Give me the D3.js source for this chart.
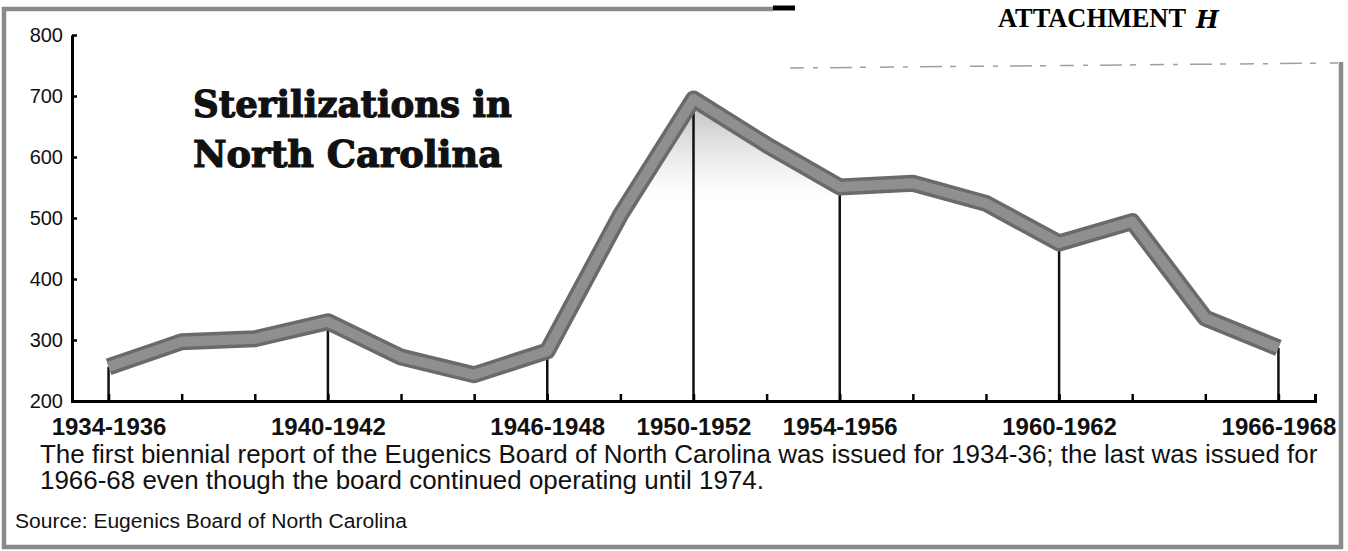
<!DOCTYPE html>
<html>
<head>
<meta charset="utf-8">
<script src="https://cdn.jsdelivr.net/npm/d3@7"></script>
<style>
  body { margin: 0; background: #fff; }
  svg { display: block; }
</style>
</head>
<body>
<div id="chart"></div>
<script>
// biennial report periods and sterilizations
const periods = [
  "1934-1936", "1936-1938", "1938-1940", "1940-1942", "1942-1944", "1944-1946",
  "1946-1948", "1948-1950", "1950-1952", "1952-1954", "1954-1956", "1956-1958",
  "1958-1960", "1960-1962", "1962-1964", "1964-1966", "1966-1968"
];
const sterilizations = [256, 297, 302, 330, 272, 243, 282, 505, 695, 620, 551, 557, 524, 459, 494, 336, 287];
const labeledPeriods = ["1934-1936", "1940-1942", "1946-1948", "1950-1952", "1954-1956", "1960-1962", "1966-1968"];
const yTicks = [200, 300, 400, 500, 600, 700, 800];
const titleLines = ["Sterilizations in", "North Carolina"];
const noteLines = [
  "The first biennial report of the Eugenics Board of North Carolina was issued for 1934-36; the last was issued for",
  "1966-68 even though the board continued operating until 1974."
];
const sourceText = "Source: Eugenics Board of North Carolina";
const attachmentText = "ATTACHMENT";
const attachmentMark = "H";

const W = 1348, H = 551;
const sans = "'Liberation Sans', Arial, Helvetica, sans-serif";

const svg = d3.select("#chart").append("svg")
  .attr("width", W)
  .attr("height", H);

const data = periods.map((p, i) => ({ period: p, value: sterilizations[i] }));

const x = d3.scalePoint()
  .domain(periods)
  .range([72, 1315])
  .padding(0.5);

const y = d3.scaleLinear()
  .domain([200, 800])
  .range([401, 35]);

// frame of the clipping
svg.append("path")
  .attr("d", "M773,9 H4 V547 H1341 V62")
  .attr("fill", "none")
  .attr("stroke", "#8a8a8a")
  .attr("stroke-width", 4.5);

svg.append("line")
  .attr("x1", 773).attr("x2", 795)
  .attr("y1", 8).attr("y2", 8)
  .attr("stroke", "#000")
  .attr("stroke-width", 5);

svg.append("line")
  .attr("x1", 790).attr("x2", 1338)
  .attr("y1", 68).attr("y2", 63)
  .attr("stroke", "#a0a0a0")
  .attr("stroke-width", 1.5)
  .attr("stroke-dasharray", "14 9 5 12 22 8 6 14");

// attachment stamp
svg.append("text")
  .attr("x", 998)
  .attr("y", 27)
  .attr("font-family", "'Liberation Serif', 'Times New Roman', serif")
  .attr("font-weight", "bold")
  .attr("font-size", 27)
  .attr("textLength", 188)
  .attr("lengthAdjust", "spacingAndGlyphs")
  .text(attachmentText);

svg.append("text")
  .attr("x", 1196)
  .attr("y", 28)
  .attr("font-family", "'DejaVu Serif', serif")
  .attr("font-weight", "bold")
  .attr("font-style", "italic")
  .attr("font-size", 24)
  .text(attachmentMark);

// light shading under the peak
const defs = svg.append("defs");
const grad = defs.append("linearGradient")
  .attr("id", "peakShade")
  .attr("gradientUnits", "userSpaceOnUse")
  .attr("x1", 0).attr("x2", 0)
  .attr("y1", y(700)).attr("y2", y(530));
grad.append("stop").attr("offset", 0).attr("stop-color", "#b0b0b0").attr("stop-opacity", 0.9);
grad.append("stop").attr("offset", 1).attr("stop-color", "#d8d8d8").attr("stop-opacity", 0);

svg.append("path")
  .datum(data)
  .attr("fill", "url(#peakShade)")
  .attr("d", d3.area()
    .x(d => x(d.period))
    .y0(y(200))
    .y1(d => y(d.value)));

// drop lines for labelled periods
svg.append("g")
  .selectAll("line")
  .data(data.filter(d => labeledPeriods.includes(d.period)))
  .join("line")
  .attr("x1", d => x(d.period))
  .attr("x2", d => x(d.period))
  .attr("y1", d => y(d.value))
  .attr("y2", y(200))
  .attr("stroke", "#111")
  .attr("stroke-width", 2.5);

// the thick grey band
const line = d3.line()
  .x(d => x(d.period))
  .y(d => y(d.value));

svg.append("path")
  .datum(data)
  .attr("fill", "none")
  .attr("stroke", "#6a6a6a")
  .attr("stroke-width", 17)
  .attr("stroke-linejoin", "round")
  .attr("d", line);

svg.append("path")
  .datum(data)
  .attr("fill", "none")
  .attr("stroke", "#8f8f8f")
  .attr("stroke-width", 10)
  .attr("stroke-linejoin", "round")
  .attr("d", line);

// axes
const yAxis = svg.append("g")
  .attr("transform", "translate(72,0)")
  .call(d3.axisLeft(y)
    .tickValues(yTicks)
    .tickSizeInner(-5)
    .tickSizeOuter(0)
    .tickPadding(9));

yAxis.select(".domain").attr("stroke-width", 3);
yAxis.selectAll(".tick line").attr("stroke-width", 2.5);
yAxis.selectAll(".tick text")
  .attr("font-family", sans)
  .attr("font-size", 20)
  .attr("fill", "#111");

const xAxis = svg.append("g")
  .attr("transform", "translate(0," + y(200) + ")")
  .call(d3.axisBottom(x)
    .tickSizeInner(-7)
    .tickSizeOuter(-7)
    .tickPadding(17)
    .tickFormat(d => labeledPeriods.includes(d) ? d : ""));

xAxis.select(".domain").attr("stroke-width", 3);
xAxis.selectAll(".tick line").attr("stroke-width", 2.5);
xAxis.selectAll(".tick text")
  .attr("font-family", sans)
  .attr("font-weight", "bold")
  .attr("font-size", 24)
  .attr("fill", "#111");

// title
svg.append("g")
  .selectAll("text")
  .data(titleLines)
  .join("text")
  .attr("x", 193)
  .attr("y", (d, i) => 117 + i * 50)
  .attr("font-family", "'DejaVu Serif', serif")
  .attr("font-weight", "bold")
  .attr("font-size", 37)
  .attr("textLength", (d, i) => i === 0 ? 319 : 309)
  .attr("lengthAdjust", "spacingAndGlyphs")
  .attr("fill", "#111")
  .attr("stroke", "#111")
  .attr("stroke-width", 1.2)
  .text(d => d);

// note under the chart, sized to the width it takes in the scan
const note = svg.append("g")
  .selectAll("text")
  .data(noteLines)
  .join("text")
  .attr("x", 40)
  .attr("y", (d, i) => 463 + i * 26)
  .attr("font-family", sans)
  .attr("font-size", 20)
  .attr("fill", "#111")
  .text(d => d);

const noteW = note.nodes()[0].getComputedTextLength();
note.attr("font-size", 20 * 1278 / noteW);

const source = svg.append("text")
  .attr("x", 15)
  .attr("y", 528)
  .attr("font-family", sans)
  .attr("font-size", 16)
  .attr("fill", "#111")
  .text(sourceText);

const srcW = source.node().getComputedTextLength();
source.attr("font-size", 16 * 392 / srcW);
</script>
</body>
</html>
